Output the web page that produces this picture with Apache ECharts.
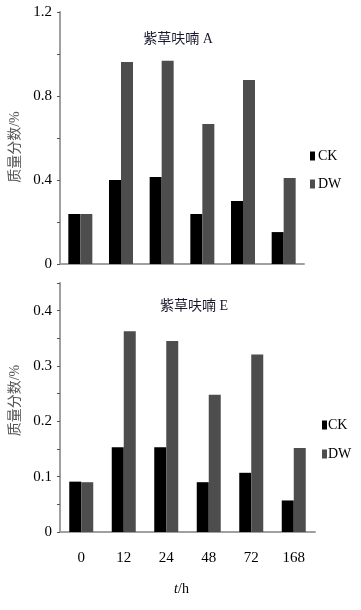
<!DOCTYPE html>
<html><head><meta charset="utf-8">
<script src="https://cdn.jsdelivr.net/npm/echarts@6/dist/echarts.min.js"></script>
<style>html,body{margin:0;padding:0;background:#fff}#c{width:361px;height:610px}</style>
</head><body><div id="c"></div>
<script>
const categories = ['0', '12', '24', '48', '72', '168'];
const ckA = [0.238, 0.40, 0.414, 0.238, 0.30, 0.152];
const dwA = [0.238, 0.962, 0.968, 0.667, 0.876, 0.41];
const ckE = [0.091, 0.153, 0.153, 0.090, 0.107, 0.057];
const dwE = [0.090, 0.363, 0.345, 0.248, 0.321, 0.152];
const seriesNames = ['CK', 'DW'];
const titles = ['紫草呋喃 A', '紫草呋喃 E'];
const yName = '质量分数/%';

const serif = '"Liberation Serif", "Times New Roman", "Noto Sans CJK SC", serif';
const cjk = '"Liberation Serif", "Noto Sans CJK SC", serif';
const axisLineStyle = {show: true, lineStyle: {color: '#a0a0a0', width: 2}};
const chart = echarts.init(document.getElementById('c'), null, {renderer: 'canvas'});

function yAxis(gi, max, interval, labelStep, namePad) {
  return {
    type: 'value', gridIndex: gi, min: 0, max: max, interval: interval,
    name: yName, nameLocation: 'middle', nameRotate: 90, nameGap: 38,
    nameTextStyle: {fontFamily: cjk, fontSize: 14, color: '#555', padding: namePad},
    axisLine: axisLineStyle,
    axisTick: {show: true, length: 3, lineStyle: {color: '#555', width: 1}},
    splitLine: {show: false},
    axisLabel: {
      fontFamily: serif, fontSize: 15, color: '#000', margin: 8,
      formatter: function (v) {
        const k = Math.round(v / labelStep * 1000) / 1000;
        if (Math.abs(k - Math.round(k)) > 1e-6) return '';
        return v === 0 ? '0' : (Math.round(v * 10) / 10).toString();
      }
    }
  };
}

const legendText = {fontFamily: serif, fontSize: 14, color: '#000', lineHeight: 14};
const option = {
  animation: false,
  backgroundColor: '#fff',
  title: [
    {text: titles[0], left: 173, top: 27, textAlign: 'center',
     textStyle: {fontFamily: cjk, fontSize: 14, fontWeight: 'normal', color: '#1a1a2e'}},
    {text: titles[1], left: 189, top: 294, textAlign: 'center',
     textStyle: {fontFamily: cjk, fontSize: 14, fontWeight: 'normal', color: '#1a1a2e'}}
  ],
  legend: [
    {data: seriesNames, orient: 'vertical', left: 305, top: 144, itemWidth: 5, itemHeight: 9,
     itemGap: 14, icon: 'rect', textStyle: Object.assign({padding: [0, 0, 0, -2]}, legendText)},
    {data: seriesNames, orient: 'vertical', left: 317, top: 413, itemWidth: 5, itemHeight: 9,
     itemGap: 15, icon: 'rect', textStyle: Object.assign({padding: [0, 0, 0, -4]}, legendText)}
  ],
  grid: [
    {left: 58, top: 12, width: 246, height: 252},
    {left: 58, top: 283, width: 257, height: 249}
  ],
  xAxis: [
    {type: 'category', gridIndex: 0, data: categories, axisLine: axisLineStyle,
     axisTick: {show: false}, axisLabel: {show: false}},
    {type: 'category', gridIndex: 1, data: categories, axisLine: axisLineStyle,
     axisTick: {show: false},
     axisLabel: {fontFamily: serif, fontSize: 15, color: '#000', margin: 19},
     name: '{i|t}/h', nameLocation: 'middle', nameGap: 50,
     nameTextStyle: {fontFamily: serif, fontSize: 14, color: '#000', padding: [0, 12, 0, 0],
       rich: {i: {fontFamily: serif, fontSize: 14, fontStyle: 'italic', color: '#000'}}}}
  ],
  yAxis: [yAxis(0, 1.2, 0.2, 0.4, [0, 18, 0, 0]), yAxis(1, 0.45, 0.05, 0.1, [0, 0, 0, 14])],
  series: [
    {name: 'CK', type: 'bar', xAxisIndex: 0, yAxisIndex: 0, data: ckA, barWidth: 12, barGap: '0%',
     itemStyle: {color: '#000'}},
    {name: 'DW', type: 'bar', xAxisIndex: 0, yAxisIndex: 0, data: dwA, barWidth: 12, barGap: '0%',
     itemStyle: {color: '#4d4d4d'}},
    {name: 'CK', type: 'bar', xAxisIndex: 1, yAxisIndex: 1, data: ckE, barWidth: 12, barGap: '0%',
     itemStyle: {color: '#000'}},
    {name: 'DW', type: 'bar', xAxisIndex: 1, yAxisIndex: 1, data: dwE, barWidth: 12, barGap: '0%',
     itemStyle: {color: '#4d4d4d'}}
  ]
};
chart.setOption(option);
</script>
</body></html>
